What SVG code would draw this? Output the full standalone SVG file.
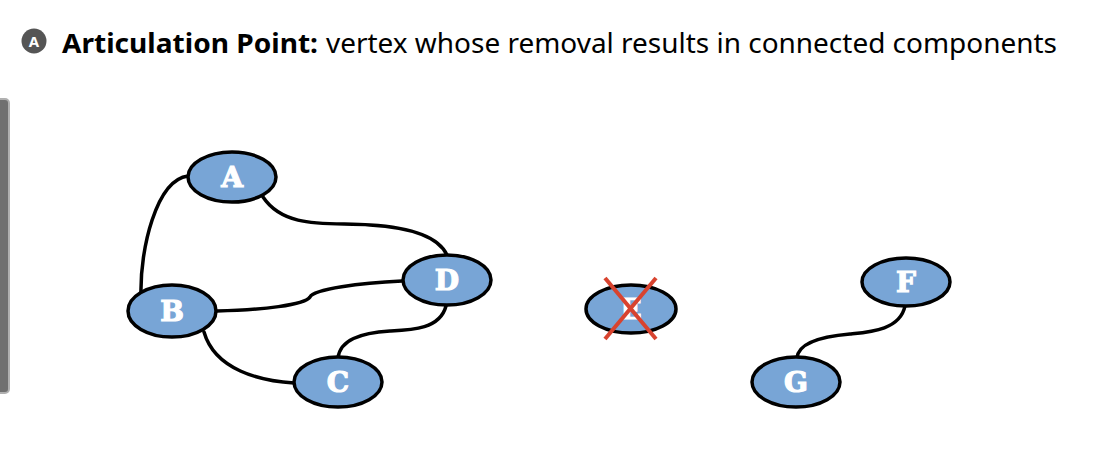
<svg xmlns="http://www.w3.org/2000/svg" width="1110" height="458" viewBox="0 0 1110 458">
  <style>
    .node ellipse { fill: #78a5d6; stroke: #000; stroke-width: 3.5; }
    .node text { fill: #fff; stroke: #fff; stroke-width: 1.2; font-family: "DejaVu Serif", "Liberation Serif", serif; font-weight: bold; font-size: 28px; text-anchor: middle; }
    .edge { fill: none; stroke: #000; stroke-width: 3.5; stroke-linecap: round; }
    .title { font-family: "Noto Sans", "Open Sans", sans-serif; font-size: 27px; fill: #000; }
    .cross { stroke: #d8432f; stroke-width: 4; stroke-linecap: butt; }
  </style>

  <rect width="1110" height="458" fill="#fff"/>

  <!-- side panel edge -->
  <rect x="-10" y="99" width="19" height="294" rx="4" fill="#707070" stroke="#b0b0b0" stroke-width="2"/>

  <!-- heading -->
  <g id="heading">
    <circle cx="34" cy="41" r="12.5" fill="#555"/>
    <text x="34" y="47" font-family="Noto Sans, sans-serif" font-size="15" font-weight="bold" fill="#fff" text-anchor="middle">A</text>
    <text class="title" x="62" y="53"><tspan font-weight="bold" textLength="256" lengthAdjust="spacingAndGlyphs">Articulation Point:</tspan><tspan x="326" textLength="731" lengthAdjust="spacingAndGlyphs">vertex whose removal results in connected components</tspan></text>
  </g>

  <!-- connectors -->
  <g id="edges">
    <path class="edge" d="M188,176 C156,180 140,250 141,294"/>
    <path class="edge" d="M263,197 C285,230 330,222 370,225 C420,228 440,240 447,255"/>
    <path class="edge" d="M217,311 C262,310 305,305 310,297 C314,289 360,283 402,281"/>
    <path class="edge" d="M204,332 C215,370 260,381 294,383"/>
    <path class="edge" d="M446,306 C440,329 412,330 390,331 C360,333 340,340 338,358"/>
    <path class="edge" d="M905,306 C900,330 870,332 850,334 C815,337 798,345 797,358"/>
  </g>

  <!-- vertices -->
  <g id="node-A" class="node"><ellipse cx="232" cy="177" rx="44" ry="25"/><text x="232" y="187">A</text></g>
  <g id="node-B" class="node"><ellipse cx="172" cy="311" rx="44" ry="26"/><text x="172" y="321">B</text></g>
  <g id="node-C" class="node"><ellipse cx="338" cy="382" rx="44" ry="25"/><text x="338" y="392">C</text></g>
  <g id="node-D" class="node"><ellipse cx="447" cy="280" rx="44" ry="25"/><text x="447" y="290">D</text></g>
  <g id="node-E" class="node"><ellipse cx="631" cy="309" rx="45" ry="24"/><text x="631" y="319">E</text></g>
  <g id="node-F" class="node"><ellipse cx="906" cy="282" rx="44" ry="24"/><text x="906" y="292">F</text></g>
  <g id="node-G" class="node"><ellipse cx="796" cy="382" rx="44" ry="25"/><text x="796" y="392">G</text></g>

  <!-- removed vertex mark -->
  <g id="removed-mark">
    <line class="cross" x1="605" y1="278" x2="656" y2="339"/>
    <line class="cross" x1="656" y1="278" x2="605" y2="339"/>
  </g>
</svg>
